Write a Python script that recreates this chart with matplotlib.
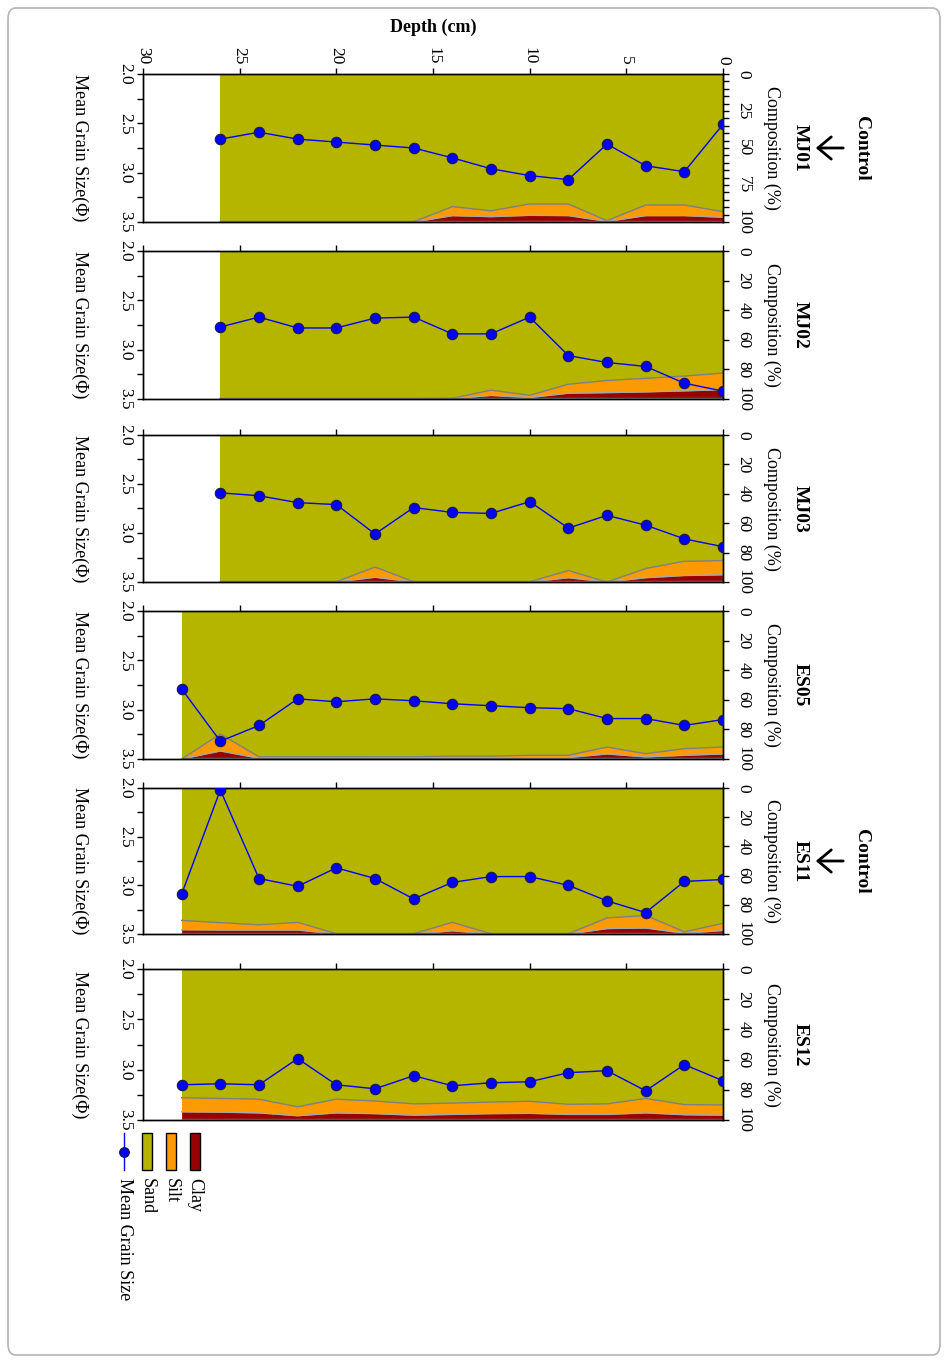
import numpy as np
import matplotlib.pyplot as plt
from matplotlib.patches import FancyBboxPatch, Rectangle, FancyArrowPatch
from matplotlib.lines import Line2D
from matplotlib.ticker import MultipleLocator

plt.rcParams['font.family'] = ['Liberation Serif', 'DejaVu Serif']

# depth of each sample (cm)
depth_mj = [0, 2, 4, 6, 8, 10, 12, 14, 16, 18, 20, 22, 24, 26]
depth_es = [0, 2, 4, 6, 8, 10, 12, 14, 16, 18, 20, 22, 24, 26, 28]

cores = ["MJ01", "MJ02", "MJ03", "ES05", "ES11", "ES12"]
control = ["MJ01", "ES11"]

# mean grain size (phi)
mj01_grain = [2.51, 2.99, 2.93, 2.71, 3.07, 3.03, 2.96, 2.85, 2.75, 2.72, 2.69, 2.66, 2.59, 2.66]
mj02_grain = [3.42, 3.34, 3.17, 3.13, 3.06, 2.67, 2.84, 2.84, 2.67, 2.68, 2.78, 2.78, 2.67, 2.77]
mj03_grain = [3.14, 3.06, 2.92, 2.82, 2.95, 2.68, 2.80, 2.79, 2.74, 3.01, 2.71, 2.69, 2.62, 2.59]
es05_grain = [3.10, 3.16, 3.09, 3.09, 2.99, 2.98, 2.96, 2.94, 2.91, 2.89, 2.92, 2.89, 3.16, 3.32, 2.79]
es11_grain = [2.94, 2.96, 3.28, 3.16, 3.00, 2.91, 2.91, 2.97, 3.14, 2.93, 2.82, 3.01, 2.93, 2.02, 3.09]
es12_grain = [3.11, 2.95, 3.21, 3.01, 3.03, 3.12, 3.13, 3.16, 3.06, 3.19, 3.15, 2.89, 3.15, 3.14, 3.15]

# silt and clay (%), sand is the rest
mj01_silt = [3.8, 7.2, 7.2, 0.5, 7.9, 7.7, 4.0, 6.1, 0.2, 0.2, 0.2, 0.2, 0.2, 0.2]
mj01_clay = [3.2, 4.3, 4.3, 0.4, 4.3, 4.5, 3.6, 4.3, 0.0, 0.0, 0.0, 0.0, 0.0, 0.0]
mj02_silt = [11.2, 10.0, 9.2, 8.2, 6.1, 1.5, 3.6, 0.3, 0.3, 0.3, 0.3, 0.3, 0.3, 0.3]
mj02_clay = [6.3, 5.5, 4.8, 4.3, 3.9, 1.0, 2.4, 0.2, 0.0, 0.0, 0.0, 0.0, 0.0, 0.0]
mj03_silt = [9.7, 9.7, 6.3, 0.0, 4.9, 0.2, 0.2, 0.2, 0.2, 7.0, 0.2, 0.2, 0.2, 0.2]
mj03_clay = [4.9, 4.4, 2.9, 0.0, 2.9, 0.0, 0.0, 0.0, 0.0, 3.2, 0.0, 0.0, 0.0, 0.0]
es05_silt = [4.7, 4.5, 2.2, 4.7, 1.5, 1.5, 1.2, 1.2, 0.9, 0.9, 1.0, 1.0, 1.0, 11.5, 0.0]
es05_clay = [3.4, 2.5, 1.4, 3.4, 1.0, 1.0, 0.8, 0.8, 0.6, 0.6, 0.5, 0.5, 0.5, 5.4, 0.0]
es11_silt = [4.9, 1.0, 8.6, 7.3, 0.2, 0.2, 0.2, 5.8, 0.2, 0.2, 0.2, 5.3, 3.6, 5.1, 6.4]
es11_clay = [2.4, 0.5, 4.1, 3.7, 0.0, 0.0, 0.0, 2.2, 0.0, 0.0, 0.0, 2.7, 2.7, 2.7, 2.9]
es12_silt = [6.8, 6.7, 9.6, 7.0, 6.7, 8.0, 7.7, 7.5, 7.5, 8.4, 9.1, 6.0, 9.1, 9.1, 9.4]
es12_clay = [3.2, 3.5, 4.7, 3.7, 3.7, 4.4, 4.2, 3.7, 3.2, 4.2, 4.7, 2.8, 4.7, 5.2, 5.4]

grain = [mj01_grain, mj02_grain, mj03_grain, es05_grain, es11_grain, es12_grain]
silt = [mj01_silt, mj02_silt, mj03_silt, es05_silt, es11_silt, es12_silt]
clay = [mj01_clay, mj02_clay, mj03_clay, es05_clay, es11_clay, es12_clay]
depths = [depth_mj, depth_mj, depth_mj, depth_es, depth_es, depth_es]

SAND = "#b5b500"
SILT = "#ff9900"
CLAY = "#990000"

W, H = 950, 1362
fig = plt.figure(figsize=(W / 100, H / 100), dpi=100)

def fx(x):
    return x / W

def fy(y):
    return 1 - y / H

# outer frame
fig.patches.append(FancyBboxPatch((fx(8), fy(1355)), fx(932), 1347 / H,
                                  boxstyle="round,pad=0,rounding_size=0.008",
                                  transform=fig.transFigure, fc="none",
                                  ec="#b4b4b4", lw=1.2))

panels = [(74, 222), (251, 399), (435, 582), (611, 759), (788, 934), (969, 1120)]
x0, x1 = 143, 723
fs_tick = 12.5
fs_lab = 13

for i, name in enumerate(cores):
    top, bot = panels[i]
    ax = fig.add_axes([fx(x0), fy(bot), (x1 - x0) / W, (bot - top) / H])
    ax2 = ax.twinx()
    d = np.array(depths[i])
    cl = np.array(clay[i])
    sc = cl + np.array(silt[i])

    ax.fill_between(d, 0, 100, color=SAND, lw=0)
    ax.fill_between(d, 100 - sc, 100, color=SILT, lw=0)
    ax.fill_between(d, 100 - cl, 100, color=CLAY, lw=0)
    ax.plot(d, 100 - sc, color="#808080", lw=1)
    ax.plot(d, 100 - cl, color="#a8a8a8", lw=1)
    ax.plot(d, np.full(len(d), 99.6), color="#808080", lw=1)

    ax.set_xlim(30, 0)
    ax.set_ylim(100, 0)
    ax.xaxis.set_major_locator(MultipleLocator(5))
    ax.xaxis.tick_top()
    ax.tick_params(axis="x", direction="out", length=4, width=1, pad=3,
                   labeltop=(i == 0), labelsize=fs_tick)
    if i == 0:
        for t in ax.get_xticklabels():
            t.set_rotation(-90)
            t.set_ha("center")
            t.set_va("bottom")

    # composition axis on the right
    ax.yaxis.tick_right()
    if i == 0:
        ax.yaxis.set_major_locator(MultipleLocator(25))
        ax.yaxis.set_minor_locator(MultipleLocator(5))
    else:
        ax.yaxis.set_major_locator(MultipleLocator(20))
    ax.tick_params(axis="y", which="both", direction="out", length=4, width=1,
                   pad=5, labelsize=fs_tick, left=False, labelleft=False,
                   right=True, labelright=True)
    ax.set_yticks(ax.get_yticks())
    ax.set_yticklabels([f"{v:g}" for v in ax.get_yticks()])
    ax.set_ylim(100, 0)
    for t in ax.get_yticklabels():
        t.set_rotation(-90)
        t.set_ha("left")
        t.set_va("center")

    # grain size axis on the left
    ax2.plot(d, grain[i], color="#0000ff", lw=1, marker="o", ms=7.5,
             mfc="#0000ff", mec="#1a1a40", mew=0.8, zorder=5)
    ax2.yaxis.tick_left()
    ax2.set_yticks([2.0, 2.5, 3.0, 3.5])
    ax2.yaxis.set_minor_locator(MultipleLocator(0.25))
    ax2.set_yticklabels(["2.0", "2.5", "3.0", "3.5"])
    ax2.set_ylim(3.5, 2.0)
    ax2.tick_params(axis="y", which="both", direction="out", length=4, width=1,
                    pad=3, labelsize=fs_tick, left=True, labelleft=True,
                    right=False, labelright=False)
    for t in ax2.get_yticklabels():
        t.set_rotation(-90)
        t.set_ha("right")
        t.set_va("center")

    for a in (ax, ax2):
        for s in a.spines.values():
            s.set_color("black")
            s.set_linewidth(1)

    mid = (top + bot) / 2
    fig.text(fx(80), fy(mid), "Mean Grain Size(\u03a6)", rotation=-90,
             ha="center", va="center", fontsize=fs_lab)
    fig.text(fx(772), fy(mid), "Composition (%)", rotation=-90,
             ha="center", va="center", fontsize=fs_lab)
    fig.text(fx(800), fy(mid), name, rotation=-90, ha="center", va="center",
             fontsize=14, fontweight="bold")
    if name in control:
        fig.text(fx(862), fy(mid), "Control", rotation=-90, ha="center",
                 va="center", fontsize=14, fontweight="bold")
        fig.patches.append(FancyArrowPatch((fx(846), fy(mid)), (fx(813), fy(mid)),
                                           transform=fig.transFigure,
                                           arrowstyle="->,head_length=0.6,head_width=0.5",
                                           mutation_scale=16, lw=2, color="black"))

fig.text(fx(433), fy(27), "Depth (cm)", ha="center", va="center",
         fontsize=13, fontweight="bold")

# legend
leg_items = [("Clay", CLAY, 195), ("Silt", SILT, 171), ("Sand", SAND, 147)]
for label, col, xc in leg_items:
    fig.patches.append(Rectangle((fx(xc - 5), fy(1170)), 10 / W, 37 / H,
                                 transform=fig.transFigure, fc=col, ec="black", lw=1))
    fig.text(fx(xc), fy(1178), label, rotation=-90, ha="center", va="top",
             fontsize=fs_lab)
fig.add_artist(Line2D([fx(124), fx(124)], [fy(1133), fy(1170)], color="#0000ff",
                      lw=1, transform=fig.transFigure))
fig.add_artist(Line2D([fx(124)], [fy(1152)], color="#0000ff", marker="o", ms=7,
                      mec="#1a1a40", mew=0.8, transform=fig.transFigure))
fig.text(fx(124), fy(1178), "Mean Grain Size", rotation=-90, ha="center",
         va="top", fontsize=fs_lab)

plt.savefig("out.png", dpi=100)
